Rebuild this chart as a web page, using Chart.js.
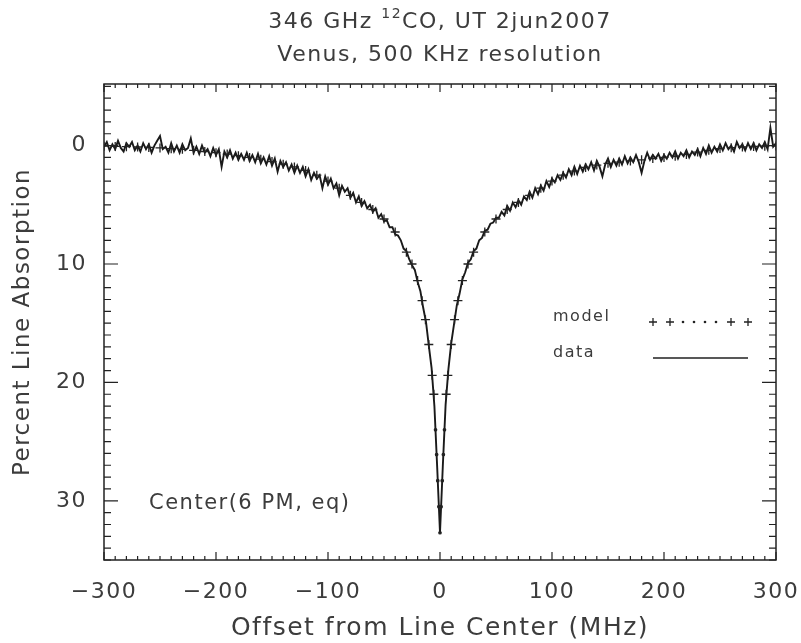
<!DOCTYPE html>
<html>
<head>
<meta charset="utf-8">
<script src="https://cdn.jsdelivr.net/npm/chart.js@4.4.0/dist/chart.umd.min.js"></script>
<style>
html, body { margin: 0; padding: 0; background: #fff; }
#wrap { width: 801px; height: 643px; }
</style>
</head>
<body>
<div id="wrap"><canvas id="venusChart" width="801" height="643"></canvas></div>
<script>
// Spectrum channels: -300 .. +300 MHz, one value every 2.5 MHz
const dataStart = -300;
const dataStep = 2.5;
const dataValues = [
    0.1, -0.3, 0.4, -0.1, 0.3, -0.4, 0.2, 0.5, -0.2, 0.1,
    -0.3, 0.4, 0.0, 0.5, -0.2, 0.3, -0.1, 0.6, 0.0, -0.4,
    -0.8, 0.3, 0.1, 0.6, -0.2, 0.5, 0.0, 0.6, -0.1, 0.4,
    0.2, -0.6, 0.6, 0.1, 0.7, 0.0, 0.6, 0.3, 0.9, 0.2,
    0.8, 0.3, 1.8, 0.5, 1.0, 0.4, 1.1, 0.6, 1.2, 0.7,
    1.2, 0.6, 1.3, 0.8, 1.4, 0.7, 1.5, 1.0, 1.6, 0.9,
    1.7, 1.1, 2.2, 1.3, 1.8, 1.4, 2.1, 1.6, 2.3, 1.7,
    2.3, 1.8, 2.6, 2.0, 2.9, 2.3, 2.8, 2.5, 3.6, 2.6,
    3.3, 2.8, 3.6, 3.2, 4.2, 3.4, 3.9, 3.6, 4.4, 4.0,
    4.8, 4.3, 5.1, 4.7, 5.3, 5.0, 5.6, 5.3, 6.1, 5.8,
    6.4, 6.3, 6.9, 6.9, 7.5, 7.6, 8.0, 8.7, 8.9, 9.6,
    10.1, 10.5, 11.5, 12.3, 13.7, 14.9, 16.9, 18.8, 22.0, 27.2,
    32.7,
    27.1, 21.9, 18.9, 16.7, 15.1, 13.5, 12.5, 11.3, 10.7, 9.9,
    9.6, 8.9, 8.7, 8.0, 7.8, 7.2, 7.1, 6.6, 6.5, 6.1,
    6.1, 5.6, 5.9, 5.1, 5.5, 4.8, 5.2, 4.6, 5.0, 4.3,
    4.6, 3.9, 4.4, 3.6, 4.1, 3.4, 3.8, 3.0, 3.5, 2.8,
    3.1, 2.5, 2.9, 2.3, 2.7, 2.0, 2.5, 1.8, 2.4, 1.7,
    2.2, 1.6, 2.0, 1.4, 2.1, 1.3, 1.8, 2.6, 1.6, 1.1,
    1.8, 1.2, 1.7, 1.1, 1.6, 0.9, 1.5, 1.0, 1.4, 0.8,
    1.4, 2.3, 1.3, 0.6, 1.2, 0.8, 1.1, 0.7, 1.3, 0.8,
    1.1, 0.6, 1.0, 0.5, 1.1, 0.6, 0.9, 0.4, 1.0, 0.5,
    0.8, 0.3, 0.9, 0.2, 0.7, 0.0, 0.6, 0.1, 0.5, -0.1,
    0.4, -0.2, 0.3, 0.0, 0.5, -0.3, 0.2, -0.1, 0.4, -0.2,
    0.3, -0.2, 0.4, -0.1, 0.2, -0.3, 0.3, -1.5, 0.1, -0.2
];

const modelOffsets = [
    -300, -290, -280, -270, -260, -250, -240, -230, -220, -210,
    -200, -190, -180, -170, -160, -150, -140, -130, -120, -110,
    -100, -90, -80, -70, -60, -50, -40, -30, -25, -20,
    -16, -13, -10, -7, -5.5, -4, -3, -2, -1, 0,
    1, 2, 3, 4, 5.5, 7, 10, 13, 16, 20,
    25, 30, 40, 50, 60, 70, 80, 90, 100, 110,
    120, 130, 140, 150, 160, 170, 180, 190, 200, 210,
    220, 230, 240, 250, 260, 270, 280, 290, 300
];
const modelValues = [
    0.05, 0.07, 0.09, 0.12, 0.16, 0.2, 0.26, 0.32, 0.4, 0.5,
    0.6, 0.72, 0.85, 1.0, 1.15, 1.35, 1.57, 1.8, 2.1, 2.5,
    3.0, 3.6, 4.2, 4.8, 5.4, 6.2, 7.3, 9.0, 10.0, 11.4,
    13.1, 14.7, 16.8, 19.4, 21.0, 24.0, 26.1, 28.3, 30.5, 32.7,
    30.5, 28.3, 26.1, 24.0, 21.0, 19.4, 16.8, 14.7, 13.1, 11.4,
    10.0, 9.0, 7.3, 6.2, 5.4, 4.8, 4.2, 3.6, 3.0, 2.5,
    2.15, 1.85, 1.65, 1.5, 1.4, 1.3, 1.2, 1.1, 1.0, 0.9,
    0.75, 0.55, 0.4, 0.25, 0.18, 0.12, 0.08, 0.05, 0.03
];

const xTicks = [-300, -200, -100, 0, 100, 200, 300];
const yTicks = [0, 10, 20, 30];

const ink = '#222';
const txt = '#3c3c3c';
const fam = '"DejaVu Sans", sans-serif';
const spacing = '1.5px';

Chart.defaults.font.family = fam;
Chart.defaults.color = txt;

const spectrum = dataValues.map((v, i) => ({ x: dataStart + i * dataStep, y: v }));
const model = modelOffsets.map((f, i) => ({ x: f, y: modelValues[i] }));

// frame, inward ticks on all sides, titles, legend and note
const framePlugin = {
    id: 'frame',
    beforeLayout(chart) { chart.ctx.letterSpacing = spacing; },
    beforeDraw(chart) { chart.ctx.letterSpacing = spacing; },
    afterDraw(chart) {
        const { ctx, chartArea: a, scales } = chart;
        const xs = scales.x, ys = scales.y;
        ctx.save();
        ctx.strokeStyle = ink;
        ctx.lineWidth = 1.5;
        ctx.strokeRect(a.left, a.top, a.right - a.left, a.bottom - a.top);
        ctx.lineWidth = 1.2;
        ctx.beginPath();
        for (let v = -300; v <= 300; v += 10) {
            const px = xs.getPixelForValue(v);
            const len = v % 100 === 0 ? 8 : 4;
            ctx.moveTo(px, a.bottom); ctx.lineTo(px, a.bottom - len);
            ctx.moveTo(px, a.top); ctx.lineTo(px, a.top + len);
        }
        for (let v = -5; v <= 35; v += 1) {
            const py = ys.getPixelForValue(v);
            const len = v % 10 === 0 ? 14 : 7;
            ctx.moveTo(a.left, py); ctx.lineTo(a.left + len, py);
            ctx.moveTo(a.right, py); ctx.lineTo(a.right - len, py);
        }
        ctx.stroke();

        // title with superscript
        const cx = (a.left + a.right) / 2;
        ctx.fillStyle = txt;
        ctx.textBaseline = 'alphabetic';
        ctx.textAlign = 'left';
        const big = '22px ' + fam, small = '14px ' + fam;
        ctx.font = big;
        const p1 = '346 GHz ', p3 = 'CO, UT 2jun2007';
        const w1 = ctx.measureText(p1).width, w3 = ctx.measureText(p3).width;
        ctx.font = small;
        const w2 = ctx.measureText('12').width;
        const sx = cx - (w1 + w2 + w3) / 2;
        ctx.font = big;
        ctx.fillText(p1, sx, 28);
        ctx.font = small;
        ctx.fillText('12', sx + w1, 18);
        ctx.font = big;
        ctx.fillText(p3, sx + w1 + w2, 28);
        ctx.textAlign = 'center';
        ctx.fillText('Venus, 500 KHz resolution', cx, 61);

        // note in the plot
        ctx.textAlign = 'left';
        ctx.textBaseline = 'middle';
        ctx.font = '21px ' + fam;
        ctx.fillText('Center(6 PM, eq)', 149, 504);

        // legend
        ctx.font = '16px ' + fam;
        ctx.fillText('model', 553, 317);
        ctx.fillText('data', 553, 353);
        ctx.strokeStyle = ink;
        ctx.lineWidth = 1.3;
        ctx.beginPath();
        [653, 670, 731, 748].forEach(px => {
            ctx.moveTo(px - 4, 322); ctx.lineTo(px + 4, 322);
            ctx.moveTo(px, 318); ctx.lineTo(px, 326);
        });
        ctx.moveTo(653, 358); ctx.lineTo(748, 358);
        ctx.stroke();
        ctx.fillStyle = ink;
        [683, 694, 705, 716].forEach(px => {
            ctx.beginPath(); ctx.arc(px, 322, 1.3, 0, Math.PI * 2); ctx.fill();
        });
        ctx.restore();
    }
};

new Chart(document.getElementById('venusChart'), {
    type: 'scatter',
    data: {
        datasets: [
            {
                label: 'model',
                data: model,
                showLine: false,
                pointStyle: c => (c.raw && Math.abs(c.raw.x) < 5 ? 'circle' : 'cross'),
                pointRadius: c => (c.raw && Math.abs(c.raw.x) < 5 ? 1.2 : 4.5),
                borderColor: ink,
                backgroundColor: ink,
                borderWidth: 1.3,
                order: 0
            },
            {
                label: 'data',
                data: spectrum,
                showLine: true,
                borderColor: '#1a1a1a',
                borderWidth: 1.9,
                pointRadius: 0,
                tension: 0,
                order: 1
            }
        ]
    },
    options: {
        responsive: false,
        animation: false,
        layout: { padding: { top: 84, right: 25, left: 0, bottom: 0 } },
        plugins: {
            legend: { display: false },
            tooltip: { enabled: false },
            title: { display: false }
        },
        scales: {
            x: {
                type: 'linear',
                min: -300,
                max: 300,
                afterBuildTicks: s => { s.ticks = xTicks.map(v => ({ value: v })); },
                afterFit: s => { s.height = 83; s.paddingLeft = 0; s.paddingRight = 0; },
                grid: { display: false, drawTicks: false },
                border: { display: false },
                ticks: {
                    padding: 19,
                    font: { size: 22 },
                    color: txt,
                    maxRotation: 0,
                    callback: v => String(v).replace('-', '\u2212')
                },
                title: {
                    display: true,
                    text: 'Offset from Line Center (MHz)',
                    font: { size: 25 },
                    color: txt,
                    padding: 0
                }
            },
            y: {
                type: 'linear',
                reverse: true,
                min: -5.2,
                max: 35,
                afterBuildTicks: s => { s.ticks = yTicks.map(v => ({ value: v })); },
                afterFit: s => { s.width = 104; s.paddingTop = 0; s.paddingBottom = 0; },
                grid: { display: false, drawTicks: false },
                border: { display: false },
                ticks: {
                    padding: 17,
                    font: { size: 22 },
                    color: txt
                },
                title: {
                    display: true,
                    text: 'Percent Line Absorption',
                    font: { size: 23 },
                    color: txt,
                    padding: { top: 9, bottom: 0 }
                }
            }
        }
    },
    plugins: [framePlugin]
});
</script>
</body>
</html>
